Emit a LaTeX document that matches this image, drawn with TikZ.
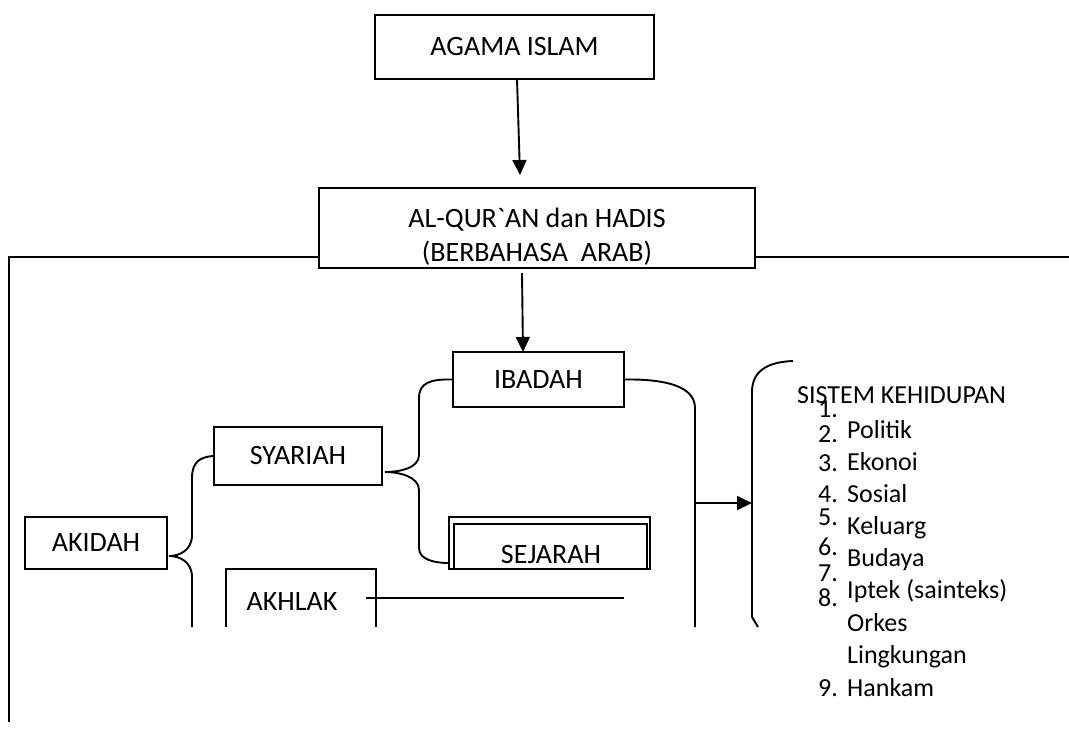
\documentclass[tikz,border=0pt]{standalone}
\usepackage{fontspec}
\setmainfont{Carlito}[Ligatures=TeXOff]
\usetikzlibrary{arrows.meta}
\begin{document}
\begin{tikzpicture}[x=1pt,y=-1pt,
  box/.style={draw, line width=1.9pt, inner sep=0pt, font=\fontsize{28}{34}\selectfont},
  conn/.style={line width=1.9pt},
  arr/.style={conn, -{Triangle[length=15pt,width=14pt]}},
  lbl/.style={font=\fontsize{28}{34}\selectfont, inner sep=0pt},
  item/.style={font=\fontsize{26}{30}\selectfont, inner sep=0pt, anchor=base west}]
\useasboundingbox (0,0) rectangle (1069,732);

% boxes
\node[box, minimum width=279pt, minimum height=64pt] (agama) at (514.5,47) {AGAMA ISLAM};
\node[box, minimum width=436pt, minimum height=80pt] (alq) at (537,228) {};
\node[lbl, align=center] (alqt) at (537,237) {AL-QUR`AN dan HADIS\\ (BERBAHASA\ \ ARAB)};
\node[box, minimum width=171pt, minimum height=55pt] (ibadah) at (538.5,379.5) {IBADAH};
\node[box, minimum width=168pt, minimum height=58pt] (syariah) at (298,456) {SYARIAH};
\node[box, minimum width=142pt, minimum height=52pt] (akidah) at (96,543) {AKIDAH};
\node[box, minimum width=201pt, minimum height=52pt] (sejout) at (549.5,543) {};
\node[box, minimum width=193pt, minimum height=45pt] (sejin) at (550.5,546.5) {};
\node[lbl] (sejt) at (551,555) {SEJARAH};
\draw[conn] (226,627) -- (226,569) -- (376,569) -- (376,627);
\node[lbl] (akhlak) at (292,602) {AKHLAK};

% frame lines
\coordinate (frL) at (9,257);
\coordinate (frB) at (9,722);
\coordinate (frR) at (1069,257);
\draw[conn] (frB) -- (frL) -- (frL -| alq.west);
\draw[conn] (alq.east |- frR) -- (frR);

% arrows
\coordinate (a1s) at (517,79);
\coordinate (a1e) at (520,175);
\draw[arr] (a1s) -- (a1e);
\coordinate (a2s) at (522,273);
\coordinate (a2e) at (523,352);
\draw[arr] (a2s) -- (a2e);

% akidah brace
\coordinate (akidtip) at (169,556);
\draw[conn] (syariah.west) .. controls (200,457) and (192,462) .. (192,478) -- (192,535)
  .. controls (192,550) and (180,556) .. (akidtip)
  .. controls (180,556) and (192,562) .. (192,577) -- (192,627);

% syariah brace
\coordinate (syartip) at (385,472);
\coordinate (sejjoin) at (449,563);
\draw[conn] (ibadah.west) .. controls (430,379) and (419,383) .. (419,398) -- (419,455)
  .. controls (419,468) and (400,472) .. (syartip)
  .. controls (400,472) and (419,477) .. (419,490) -- (419,548)
  .. controls (419,560) and (435,563) .. (sejjoin);

% akhlak line
\coordinate (ak1) at (366,598);
\coordinate (ak2) at (624,598);
\draw[conn] (ak1) -- (ak2);

% ibadah right
\coordinate (ibbot) at (695,627);
\draw[conn] (ibadah.east) .. controls (665,379) and (695,386) .. (695,408) -- (ibbot);
\coordinate (ibj) at (695,503);
\coordinate (sbr) at (752,503);
\draw[arr] (ibj) -- (sbr);

% right bracket
\coordinate (rbt) at (793,361);
\coordinate (rbb) at (758,627);
\draw[conn] (rbt) .. controls (766,362) and (752,372) .. (752,392) -- (752,617) -- (rbb);

% list
\node[item] (sist) at (797,403) {SISTEM KEHIDUPAN};
\node[item] (n1) at (818,417) {1.};
\node[item] (n2) at (818,442) {2.};
\node[item] (n3) at (818,471) {3.};
\node[item] (n4) at (818,502) {4.};
\node[item] (n5) at (818,525) {5.};
\node[item] (n6) at (818,555) {6.};
\node[item] (n7) at (818,581) {7.};
\node[item] (n8) at (818,606) {8.};
\node[item] (n9) at (818,696) {9.};
\node[item] (t1) at (847,438) {Politik};
\node[item] (t2) at (847,470) {Ekonoi};
\node[item] (t3) at (847,502) {Sosial};
\node[item] (t4) at (847,534) {Keluarg};
\node[item] (t5) at (847,566) {Budaya};
\node[item] (t6) at (847,598) {Iptek (sainteks)};
\node[item] (t7) at (847,631) {Orkes};
\node[item] (t8) at (847,663) {Lingkungan};
\node[item] (t9) at (847,696) {Hankam};
\end{tikzpicture}
\end{document}
